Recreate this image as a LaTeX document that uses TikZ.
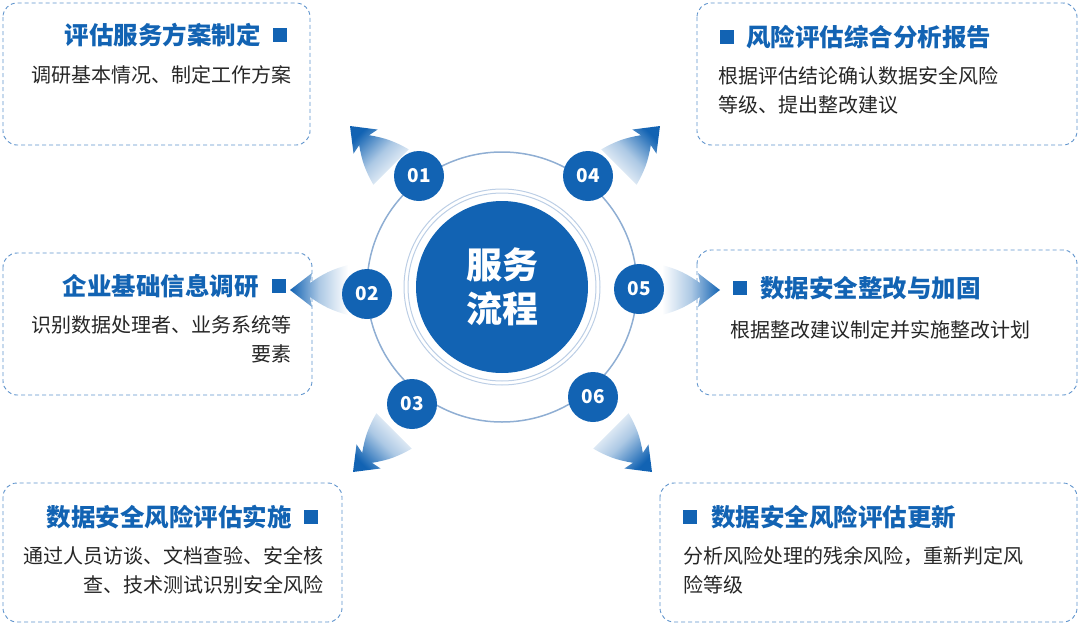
\documentclass[tikz,border=0pt]{standalone}
\usepackage{fontspec}
\setmainfont{Noto Sans CJK SC}
\usetikzlibrary{calc}
\definecolor{mblue}{HTML}{1263B3}
\definecolor{dblue}{HTML}{5E93CC}
\definecolor{ring}{HTML}{8FAED3}
\tikzset{
  box/.style={draw=dblue, dash pattern=on 4pt off 3pt, rounded corners=14pt, line width=0.9pt},
  ttl/.style={text=mblue, font=\fontsize{24.5}{28}\selectfont\bfseries, inner sep=0pt},
  dsc/.style={text=black!85, font=\fontsize{20}{29}\selectfont, inner sep=0pt},
  sq/.style={fill=mblue, minimum size=14pt, inner sep=0pt},
  num/.style={circle, fill=mblue, minimum size=50pt, inner sep=0pt, text=white, font=\fontsize{19}{20}\selectfont\bfseries},
}
% #1 x, #2 y (tip), #3 visual angle
\newcommand{\fanarrow}[3]{%
  \pgfmathsetmacro{\psi}{-#3}%
  \pgfmathsetmacro{\psp}{-#3+90}%
  \pgfmathsetmacro{\shang}{90+#3}%
  \coordinate (T) at (#1,#2);
  \shade[shading=axis, left color=white, right color=mblue, middle color=mblue!35, shading angle=\shang]
    (T) -- ($(T)+(\psi:-22)+(\psp:17)$) -- ($(T)+(\psi:-20)+(\psp:7)$)
    to[bend left=10] ($(T)+(\psi:-58)+(\psp:25)$)
    -- ($(T)+(\psi:-58)+(\psp:-25)$)
    to[bend left=10] ($(T)+(\psi:-20)+(\psp:-7)$)
    -- ($(T)+(\psi:-22)+(\psp:-17)$) -- cycle;}
\begin{document}
\begin{tikzpicture}[x=1pt,y=-1pt]
\useasboundingbox (0,0) rectangle (1080,627);
% boxes
\draw[box] (3,3) rectangle (310,145);
\draw[box] (697,3) rectangle (1077,145);
\draw[box] (3,253) rectangle (312,395);
\draw[box] (697,250) rectangle (1077,395);
\draw[box] (3,483) rectangle (342,622);
\draw[box] (660,483) rectangle (1077,622);
% arrows
\fanarrow{350}{126}{135}
\fanarrow{660}{126}{45}
\fanarrow{290}{290}{180}
\fanarrow{720}{290}{0}
\fanarrow{353}{472}{-135}
\fanarrow{652}{472}{-45}
% center
\node[circle, draw=ring, line width=1.5pt, minimum size=270pt] (ring) at (502,287) {};
\node[circle, draw=ring!60, line width=1pt, minimum size=196pt] (r2) at (502,287) {};
\node[circle, draw=ring!60, line width=1pt, minimum size=188pt] (r3) at (502,287) {};
\node[circle, fill=mblue, minimum size=172pt, text=white, align=center, font=\fontsize{36}{44}\selectfont\bfseries] (c) at (502,287) {服务\\流程};
\node[num] (n1) at (419,176) {01};
\node[num] (n4) at (588,176) {04};
\node[num] (n2) at (367,294) {02};
\node[num] (n5) at (639,289) {05};
\node[num] (n3) at (412,404) {03};
\node[num] (n6) at (593,397) {06};
% box 1
\node[sq] (s1) at (280,35) {};
\node[ttl, anchor=east] (t1) at (261,35) {评估服务方案制定};
\node[dsc, anchor=east] (d1) at (292,75) {调研基本情况、制定工作方案};
% box 2
\node[sq] (s2) at (279,286) {};
\node[ttl, anchor=east] (t2) at (259,286) {企业基础信息调研};
\node[dsc, anchor=north east, align=right] (d2) at (292,315) {识别数据处理者、业务系统等\\要素};
% box 3
\node[sq] (s3) at (311,517) {};
\node[ttl, anchor=east] (t3) at (292,517) {数据安全风险评估实施};
\node[dsc, anchor=north east, align=right] (d3) at (324,546) {通过人员访谈、文档查验、安全核\\查、技术测试识别安全风险};
% box 4
\node[sq] (s4) at (727,37) {};
\node[ttl, anchor=west] (t4) at (746,37) {风险评估综合分析报告};
\node[dsc, anchor=north west, align=left] (d4) at (718,66) {根据评估结论确认数据安全风险\\等级、提出整改建议};
% box 5
\node[sq] (s5) at (740,288) {};
\node[ttl, anchor=west] (t5) at (760,288) {数据安全整改与加固};
\node[dsc, anchor=west] (d5) at (730,330) {根据整改建议制定并实施整改计划};
% box 6
\node[sq] (s6) at (690,517) {};
\node[ttl, anchor=west] (t6) at (711,517) {数据安全风险评估更新};
\node[dsc, anchor=north west, align=left] (d6) at (683,546) {分析风险处理的残余风险，重新判定风\\险等级};
\end{tikzpicture}
\end{document}
